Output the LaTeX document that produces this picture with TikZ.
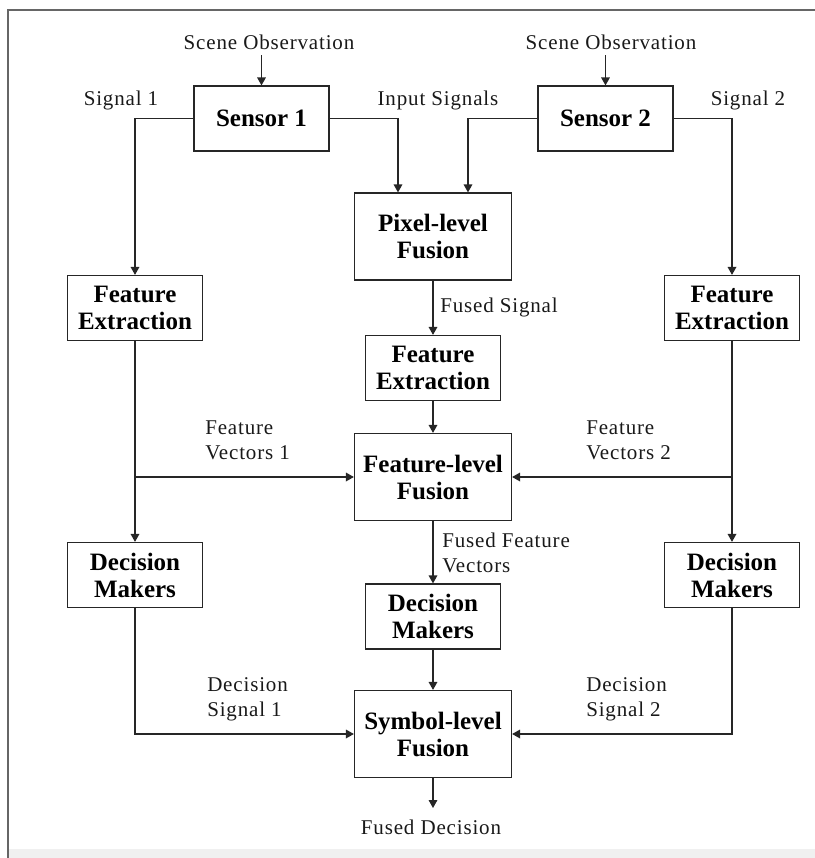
\documentclass[tikz,border=0pt]{standalone}
\usepackage{fontspec}
\setmainfont{Liberation Serif}
\newfontfamily\labelfont[LetterSpace=4]{Liberation Serif}
\usetikzlibrary{arrows.meta}

\begin{document}
\begin{tikzpicture}[x=0.75pt,y=-0.75pt,
  ink/.style={draw=black!85, line width=0.9pt},
  box/.style={ink, align=center, inner sep=0pt,
    font=\fontsize{18.75}{20.25}\selectfont\bfseries,
    minimum width=101.25pt, minimum height=48.75pt},
  fusebox/.style={box, minimum width=117.75pt, minimum height=65.25pt},
  lab/.style={font=\labelfont\fontsize{15.75}{18.75}\selectfont,
    inner sep=0pt, align=left, text=black!90},
  arr/.style={ink, -{Triangle[length=6pt,width=6.5pt]}}
]
% page area and frame
\useasboundingbox (0,0) rectangle (815,858);
\fill[black!6] (9,849) rectangle (815,858);
\draw[black!60, line width=1.4pt] (8,858) -- (8,10) -- (815,10);

% processing blocks
\node[box] (s1) at (261.5,118.5) {Sensor 1};
\node[box] (s2) at (605.5,118.5) {Sensor 2};
\node[fusebox] (pix) at (433,236.5) {Pixel-level\\Fusion};
\node[box] (fe1) at (135,308) {Feature\\Extraction};
\node[box] (fe2) at (732,308) {Feature\\Extraction};
\node[box] (fec) at (433,368) {Feature\\Extraction};
\node[fusebox] (ffl) at (433,477) {Feature-level\\Fusion};
\node[box] (dm1) at (135,575) {Decision\\Makers};
\node[box] (dm2) at (732,575) {Decision\\Makers};
\node[box] (dmc) at (433,616.5) {Decision\\Makers};
\node[fusebox] (sym) at (433,734) {Symbol-level\\Fusion};

% signal labels
\node[lab] (obs1) at (269,42) {Scene Observation};
\node[lab] (obs2) at (611,42) {Scene Observation};
\node[lab] (sig1) at (121,100) {Signal 1};
\node[lab] (insig) at (438,100) {Input Signals};
\node[lab] (sig2) at (748,100) {Signal 2};
\node[lab, anchor=west] (fsig) at (440,307) {Fused Signal};
\node[lab, anchor=west] (fv1) at (205,440) {Feature\\Vectors 1};
\node[lab, anchor=west] (fv2) at (586,440) {Feature\\Vectors 2};
\node[lab, anchor=west] (ffv) at (442,552.5) {Fused Feature\\Vectors};
\node[lab, anchor=west] (ds1) at (207,699) {Decision\\Signal 1};
\node[lab, anchor=west] (ds2) at (586,699) {Decision\\Signal 2};
\node[lab] (fdec) at (431,827) {Fused Decision};

% free ends of the outer arrows
\coordinate (o1) at (261.5,55);
\coordinate (o2) at (605.5,55);
\coordinate (fd) at (433,808);

% connectors
\draw[arr] (o1) -- (s1.north);
\draw[arr] (o2) -- (s2.north);
\draw[arr] (s1.west) -| (fe1.north);
\draw[arr] (s2.east) -| (fe2.north);
\draw[arr] (s1.east) -| ([xshift=-26.25pt]pix.north);
\draw[arr] (s2.west) -| ([xshift=26.25pt]pix.north);
\draw[arr] (pix.south) -- (fec.north);
\draw[arr] (fec.south) -- (ffl.north);
\draw[arr] (fe1.south) -- (dm1.north);
\draw[arr] (fe2.south) -- (dm2.north);
\draw[arr] (fe1.south |- ffl.west) -- (ffl.west);
\draw[arr] (fe2.south |- ffl.east) -- (ffl.east);
\draw[arr] (ffl.south) -- (dmc.north);
\draw[arr] (dmc.south) -- (sym.north);
\draw[arr] (dm1.south) |- (sym.west);
\draw[arr] (dm2.south) |- (sym.east);
\draw[arr] (sym.south) -- (fd);
\end{tikzpicture}
\end{document}
